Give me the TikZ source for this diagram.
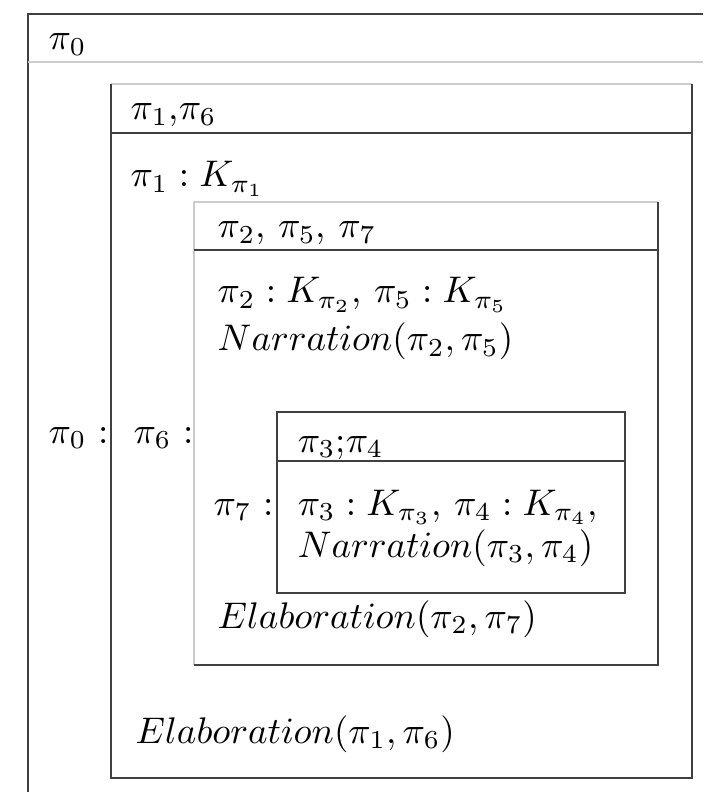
\documentclass[tikz,border=0pt]{standalone}
\begin{document}
\begin{tikzpicture}[x=0.27pt,y=-0.27pt,
  txt/.style={anchor=base west, inner sep=0pt, font=\fontsize{10}{12}\selectfont},
  dk/.style={draw=black!75, line width=0.55pt},
  lt/.style={draw=black!20, line width=0.45pt}]
\useasboundingbox (0,0) rectangle (703,792);
% outer box pi0
\draw[dk] (28,792) -- (28,14) -- (703,14);
\draw[lt] (28,62) -- (703,62);
% box pi1,pi6
\draw[lt] (111,84) -- (692,84);
\draw[dk] (111,84) -- (111,778) -- (692,778) -- (692,84);
\draw[dk] (111,133) -- (692,133);
% box pi2,pi5,pi7
\draw[lt] (194,665) -- (194,202) -- (658,202);
\draw[dk] (194,665) -- (658,665) -- (658,202);
\draw[dk] (194,250) -- (658,250);
% box pi3,pi4
\draw[dk] (277,412) rectangle (625,593);
\draw[dk] (277,461) -- (625,461);
% texts
\node[txt] (h0) at (48,50) {$\pi_0$};
\node[txt] (h1) at (130,120) {$\pi_1$,$\pi_6$};
\node[txt] (k1) at (130,187) {$\pi_1 : K_{\pi_1}$};
\node[txt] (h2) at (217,238) {$\pi_2$, $\pi_5$, $\pi_7$};
\node[txt] (k2) at (217,303) {$\pi_2 : K_{\pi_2}$, $\pi_5 : K_{\pi_5}$};
\node[txt] (n2) at (217,351) {$Narration(\pi_2,\pi_5)$};
\node[txt] (l0) at (48,443) {$\pi_0$ :};
\node[txt] (l6) at (133,443) {$\pi_6$ :};
\node[txt] (h3) at (297,452) {$\pi_3$;$\pi_4$};
\node[txt] (l7) at (213,515) {$\pi_7$ :};
\node[txt] (k3) at (297,515) {$\pi_3 : K_{\pi_3}$, $\pi_4 : K_{\pi_4}$,};
\node[txt] (n3) at (297,557) {$Narration(\pi_3,\pi_4)$};
\node[txt] (e2) at (217,628) {$Elaboration(\pi_2,\pi_7)$};
\node[txt] (e1) at (135,743) {$Elaboration(\pi_1,\pi_6)$};
\end{tikzpicture}
\end{document}
